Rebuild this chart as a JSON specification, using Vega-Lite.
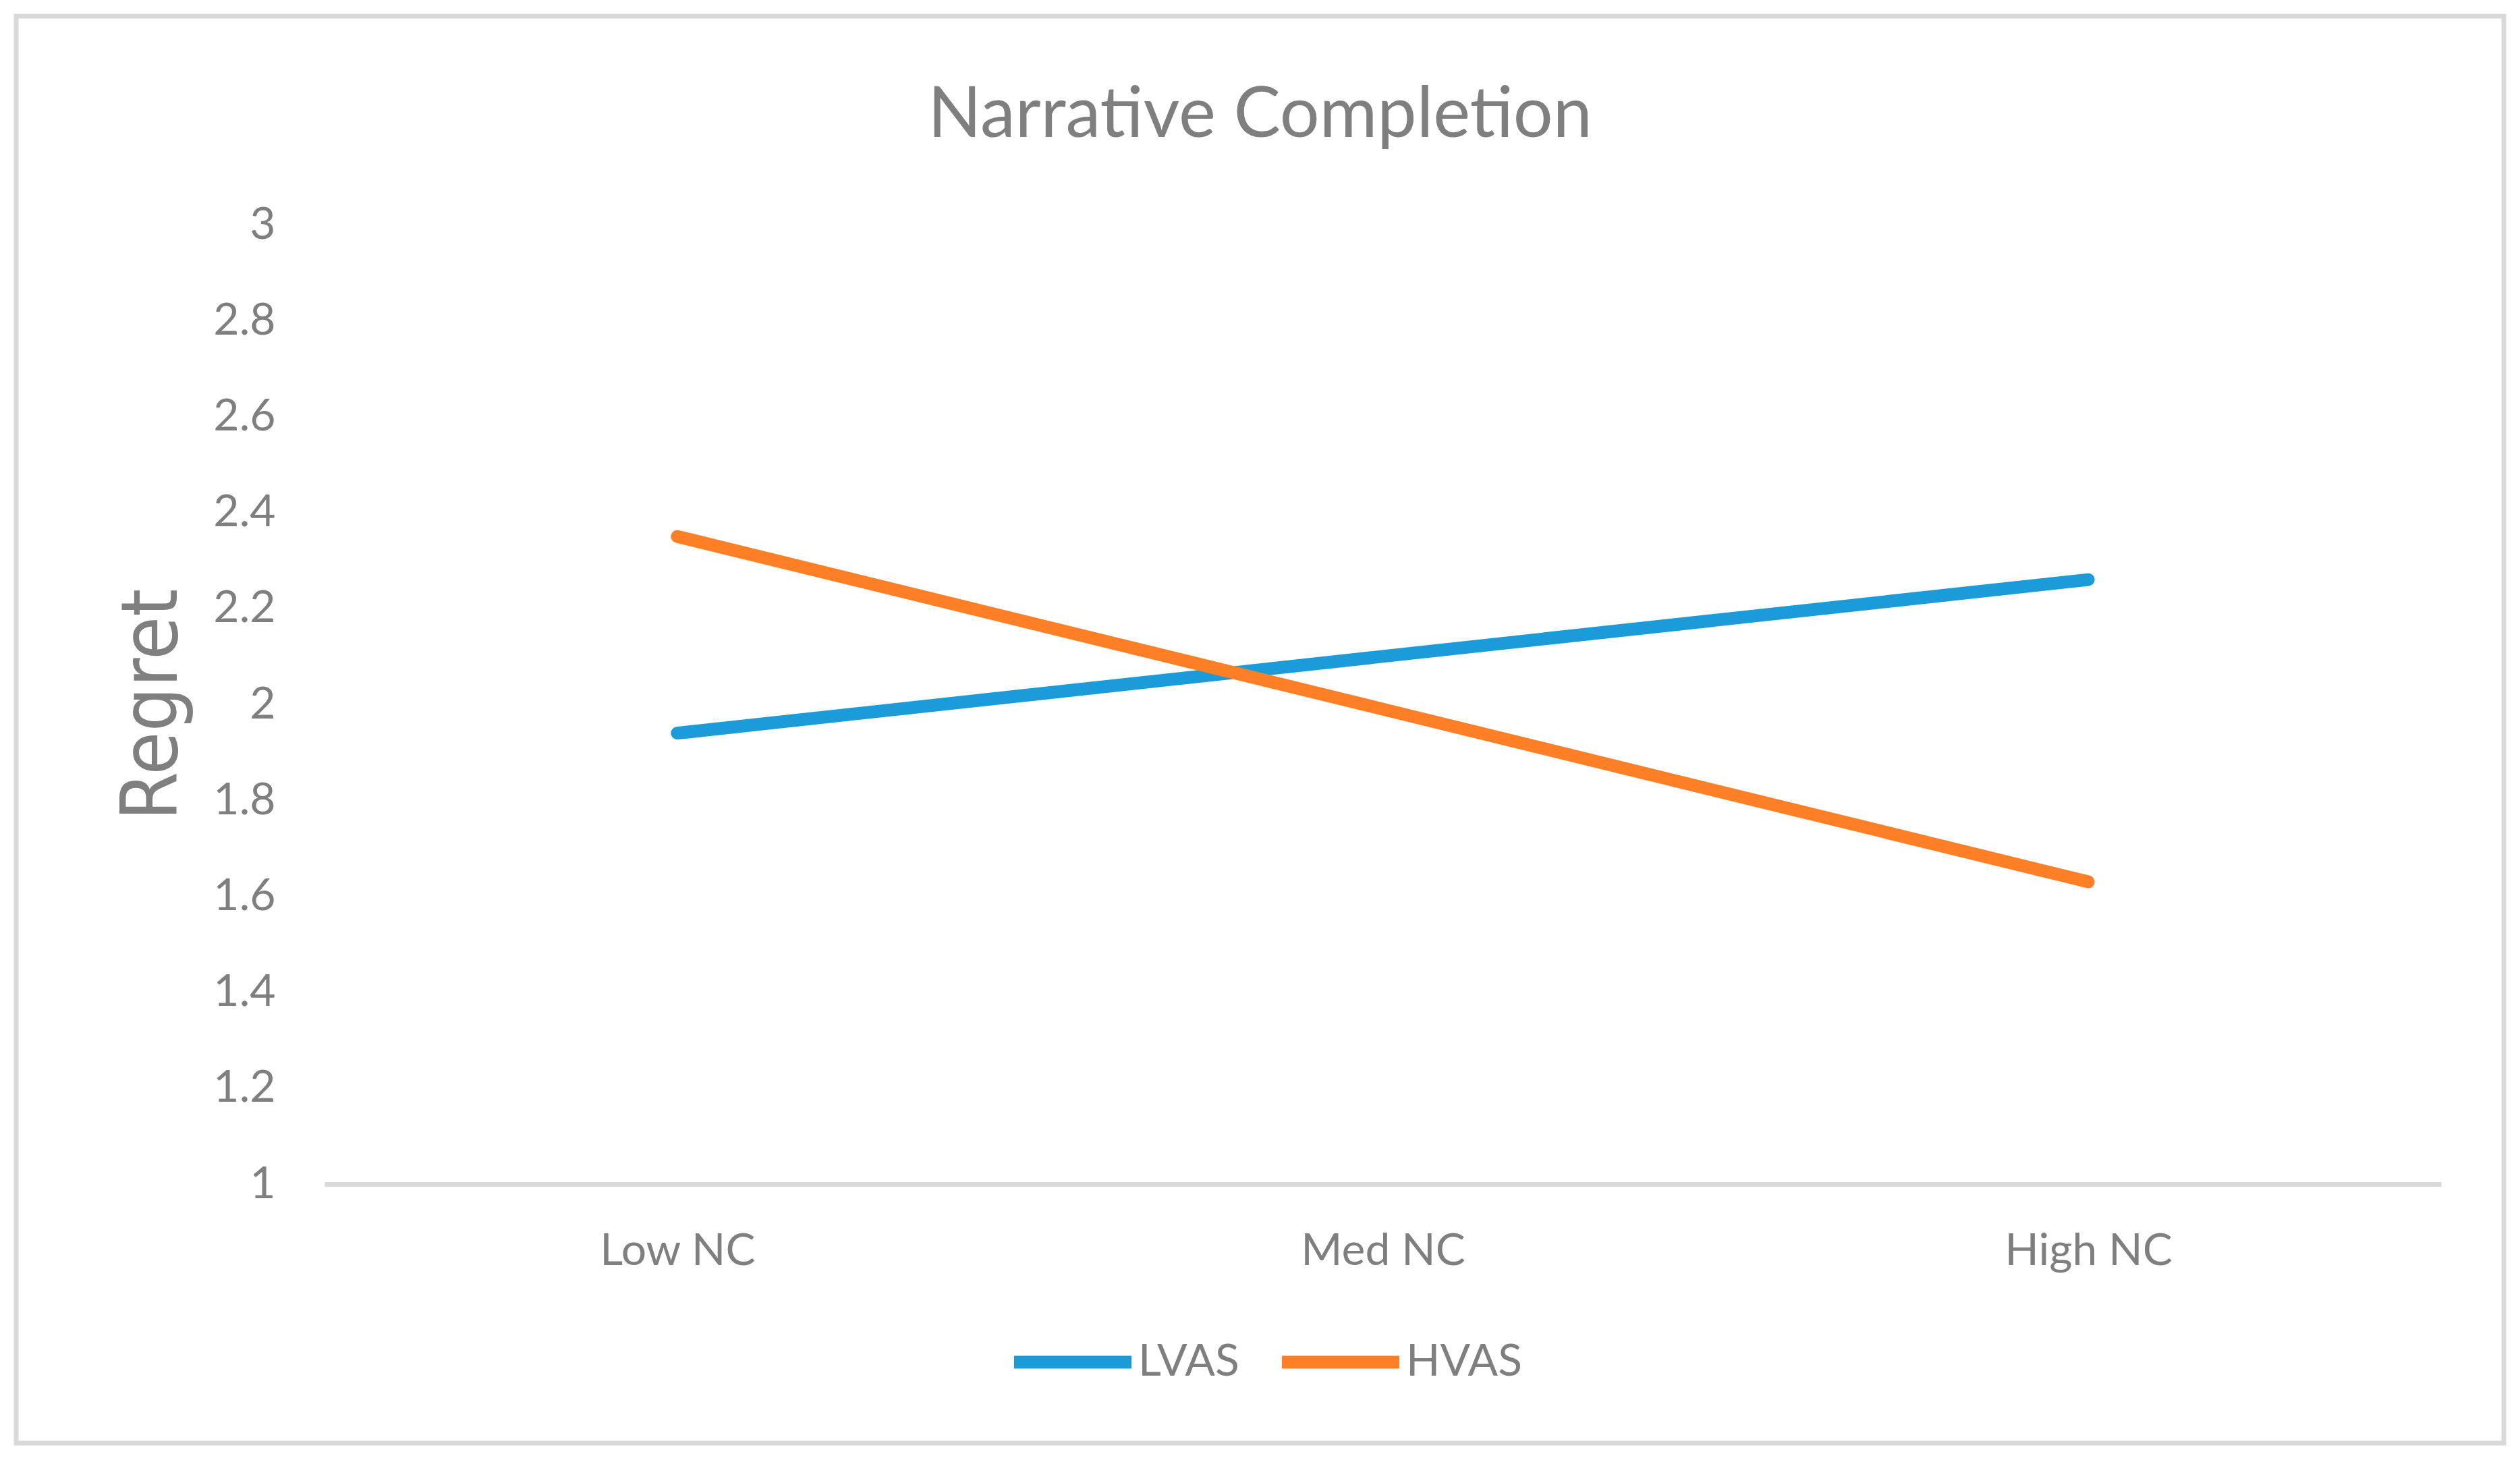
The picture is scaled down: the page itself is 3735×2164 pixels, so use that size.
{
  "$schema": "https://vega.github.io/schema/vega-lite/v6.json",
  "width": 3687,
  "height": 2115,
  "padding": 24,
  "autosize": {"type": "none"},
  "background": "white",
  "title": {
    "text": "Narrative Completion",
    "font": "Lato",
    "fontSize": 104,
    "fontWeight": "normal",
    "color": "#7F7F7F",
    "anchor": "middle",
    "frame": "group",
    "baseline": "alphabetic",
    "offset": -283
  },
  "data": {
    "values": [
      {"level": "Low NC", "group": "LVAS", "regret": 1.94},
      {"level": "Med NC", "group": "LVAS", "regret": 2.10},
      {"level": "High NC", "group": "LVAS", "regret": 2.26},
      {"level": "Low NC", "group": "HVAS", "regret": 2.35},
      {"level": "Med NC", "group": "HVAS", "regret": 1.99},
      {"level": "High NC", "group": "HVAS", "regret": 1.63}
    ]
  },
  "mark": {"type": "line", "strokeWidth": 19, "strokeCap": "round", "strokeJoin": "round"},
  "encoding": {
    "x": {
      "field": "level",
      "type": "ordinal",
      "sort": ["Low NC", "Med NC", "High NC"],
      "scale": {"type": "point", "range": [457, 3594], "padding": 0.5},
      "axis": {
        "title": null,
        "offset": -384,
        "domainColor": "#D9D9D9",
        "domainWidth": 7,
        "ticks": false,
        "grid": false,
        "labelAngle": 0,
        "labelFont": "Lato",
        "labelFontSize": 66,
        "labelColor": "#7F7F7F",
        "labelPadding": 67,
        "labelLimit": 0
      }
    },
    "y": {
      "field": "regret",
      "type": "quantitative",
      "scale": {"domain": [1, 3], "range": [1731, 309], "nice": false, "zero": false},
      "axis": {
        "title": "Regret",
        "titleFont": "DejaVu Sans Condensed, DejaVu Sans",
        "titleFontSize": 116,
        "titleFontWeight": "normal",
        "titleColor": "#7F7F7F",
        "titlePadding": 30,
        "offset": -457,
        "values": [1, 1.2, 1.4, 1.6, 1.8, 2, 2.2, 2.4, 2.6, 2.8, 3],
        "format": "~g",
        "domain": false,
        "ticks": false,
        "grid": false,
        "labelFont": "Lato",
        "labelFontSize": 66,
        "labelColor": "#7F7F7F",
        "labelPadding": 73,
        "labelLimit": 0
      }
    },
    "color": {
      "field": "group",
      "type": "nominal",
      "scale": {"domain": ["LVAS", "HVAS"], "range": ["#1B9BD7", "#FF7F27"]},
      "legend": {
        "title": null,
        "orient": "none",
        "direction": "horizontal",
        "legendX": 1469,
        "legendY": 1898,
        "padding": 0,
        "symbolType": "stroke",
        "symbolSize": 30300,
        "symbolStrokeWidth": 19,
        "labelFont": "Lato",
        "labelFontSize": 66,
        "labelColor": "#7F7F7F",
        "labelOffset": 0,
        "labelLimit": 0,
        "columnPadding": 24
      }
    }
  },
  "config": {
    "view": {"stroke": "#D9D9D9", "strokeWidth": 7}
  }
}
